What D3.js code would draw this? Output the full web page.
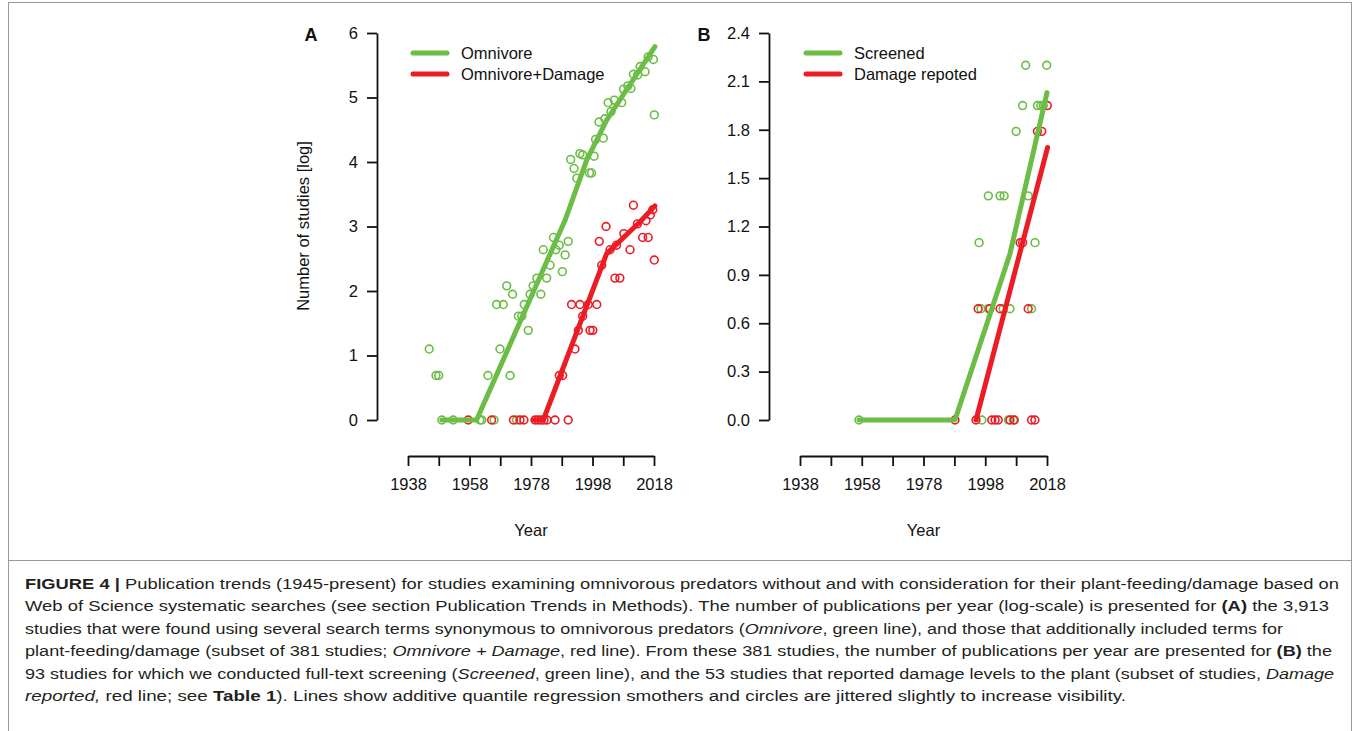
<!DOCTYPE html>
<html><head><meta charset="utf-8">
<script src="https://cdn.jsdelivr.net/npm/d3@7"></script>
<style>
body{margin:0;background:#fff;}
svg{display:block;font-family:"Liberation Sans",Arial,sans-serif;}
</style></head>
<body><svg id="c" width="1360" height="731"></svg>
<script>
// ---------- Data ----------
const xTickYears = [1938,1948,1958,1968,1978,1988,1998,2008,2018];
const xTickLabels = ["1938","","1958","","1978","","1998","","2018"];
const yTicksA = [0,1,2,3,4,5,6];
const yTicksB = [0,0.3,0.6,0.9,1.2,1.5,1.8,2.1,2.4];

// Panel A – Omnivore (green) points
const omnivoreYears = [1944.9,1947.1,1948.0,1949.0,1952.7,1961.4,1962.0,1966.0,1964.0,1971.2,1967.9,1977.1,1966.8,1969.0,1970.1,1972.0,1973.9,1975.0,1975.8,1977.7,1978.7,1979.9,1981.2,1983.1,1984.2,1982.0,1986.1,1987.2,1985.3,1990.1,1989.1,1988.2,1973.3,1992.9,1990.9,1992.0,1993.9,1994.8,1997.0,1997.7,1998.5,1999.0,2001.5,2000.1,2002.0,2003.1,2005.1,2007.5,2004.0,2008.1,2010.5,2009.5,2011.3,2012.7,2015.1,2013.5,2016.1,2017.8,2018.1];
const omnivoreValues = [1.10,0.69,0.69,0,0,0,0,0,0.69,0.69,1.10,1.39,1.79,1.79,2.08,1.95,1.61,1.61,1.79,1.95,2.08,2.20,1.95,2.20,2.40,2.64,2.64,2.71,2.83,2.77,2.56,2.30,0,3.75,4.04,3.90,4.13,4.11,3.83,3.83,4.09,4.35,4.37,4.62,4.67,4.92,4.96,4.92,4.78,5.13,5.14,5.18,5.36,5.35,5.40,5.48,5.63,5.59,4.73];

// Panel A – Omnivore+Damage (red) points
const damageAYears = [1957.6,1965.2,1972.3,1974.4,1975.7,1979.3,1980.3,1981.3,1982.2,1983.2,1985.8,1990.1,1987.2,1988.3,1992.3,1993.4,1994.8,1991.2,1993.9,1996.6,1999.4,1997.2,1998.1,2001.0,2000.2,2002.4,2003.7,2005.3,2006.9,2005.8,2008.2,2010.2,2014.3,2016.1,2018.1,2012.6,2015.4,2011.3,2016.8,2017.6];
const damageAValues = [0,0,0,0,0,0,0,0,0,0,0,0,0.69,0.69,1.10,1.39,1.61,1.79,1.79,1.79,1.79,1.39,1.39,2.40,2.77,3.00,2.64,2.20,2.20,2.71,2.89,2.64,2.83,2.83,2.48,3.04,3.09,3.33,3.18,3.26];

// Panel A – fitted lines
const omnivoreFitYears = [1949.0,1960.3,1989.1,1996.1,2002.6,2018.3];
const omnivoreFitValues = [0,0,3.10,4.03,4.65,5.79];
const damageAFitYears = [1978.8,1982.0,2002.6,2013.4,2018.3];
const damageAFitValues = [0,0,2.58,3.07,3.32];

// Panel B – Screened (green) points
const screenedYears = [1957.1,1996.9,2005.5,2007.1,1996.6,1999.0,2003.8,2006.0,2013.0,1996.0,2014.1,1999.0,2002.8,2004.1,2011.9,2008.0,2010.1,2014.9,2016.0,2016.8,2011.1,2017.9];
const screenedValues = [0,0,0,0,0.69,0.69,0.69,0.69,0.69,1.10,1.10,1.39,1.39,1.39,1.39,1.79,1.95,1.95,1.95,1.95,2.20,2.20];

// Panel B – Damage reported (red) points
const reportedYears = [1988.2,1995.0,2000.1,2001.2,2002.2,2006.0,2007.4,2013.0,2014.1,1995.7,1999.5,2002.8,2011.9,2009.3,2010.1,2014.9,2016.3,2018.1];
const reportedValues = [0,0,0,0,0,0,0,0,0,0.69,0.69,0.69,0.69,1.10,1.10,1.79,1.79,1.95];

// Panel B – fitted lines
const screenedFitYears = [1957.1,1988.2,2006.0,2018.0];
const screenedFitValues = [0,0,1.03,2.03];
const reportedFitYears = [1995.0,2018.2];
const reportedFitValues = [0,1.69];

const legendA = ["Omnivore","Omnivore+Damage"];
const legendB = ["Screened","Damage repoted"];

// ---------- Drawing ----------
const GREEN = "#6bbd45", RED = "#ec1c24";
const FS = 16.5;
const svg = d3.select("#c");

// frame
svg.append("rect").attr("x",8.5).attr("y",2.5).attr("width",1343).attr("height",740)
  .attr("fill","none").attr("stroke","#9a9a9a").attr("stroke-width",1);
svg.append("line").attr("x1",8.5).attr("x2",1351.5).attr("y1",560.5).attr("y2",560.5)
  .attr("stroke","#9a9a9a").attr("stroke-width",1);

function zip(a,b){return a.map((v,i)=>[v,b[i]]);}

function panel(cfg){
  const x = d3.scaleLinear().domain([1938,2018]).range(cfg.xr);
  const y = d3.scaleLinear().domain([0,cfg.ymax]).range([420,33]);
  const g = svg.append("g");

  const xa = g.append("g").attr("transform","translate(0,456)")
    .call(d3.axisBottom(x).tickValues(xTickYears).tickSize(10).tickSizeOuter(0).tickPadding(12)
      .tickFormat((d,i)=>xTickLabels[i]));
  const ya = g.append("g").attr("transform",`translate(${cfg.xr[0]-31},0)`)
    .call(d3.axisLeft(y).tickValues(cfg.yTicks).tickSize(10).tickSizeOuter(0).tickPadding(9)
      .tickFormat(cfg.fmt));
  [xa,ya].forEach(a=>{
    a.selectAll("path,line").attr("stroke","#111").attr("stroke-width",1.8);
    a.selectAll("text").attr("font-size",FS).attr("fill","#111")
      .attr("font-family","'Liberation Sans',Arial,sans-serif");
  });

  g.append("text").attr("x",(cfg.xr[0]+cfg.xr[1])/2).attr("y",536).attr("text-anchor","middle")
    .attr("font-size",FS).attr("fill","#111").text("Year");
  g.append("text").attr("x",cfg.letterX).attr("y",41).attr("text-anchor","middle")
    .attr("font-size",18).attr("font-weight","bold").attr("fill","#111").text(cfg.letter);

  const line = d3.line().x(d=>x(d[0])).y(d=>y(d[1]));
  cfg.series.forEach(s=>{
    g.append("g").selectAll("circle").data(zip(s.px,s.py)).join("circle")
      .attr("cx",d=>x(d[0])).attr("cy",d=>y(d[1])).attr("r",3.9)
      .attr("fill","none").attr("stroke",s.color).attr("stroke-width",1.6);
  });
  cfg.series.forEach(s=>{
    g.append("path").datum(zip(s.fx,s.fy)).attr("d",line).attr("fill","none")
      .attr("stroke",s.color).attr("stroke-width",5).attr("stroke-linecap","round")
      .attr("stroke-linejoin","round");
  });

  // legend
  cfg.legend.forEach((t,i)=>{
    const ly = 53 + i*21;
    g.append("line").attr("x1",cfg.legX).attr("x2",cfg.legX+34).attr("y1",ly).attr("y2",ly)
      .attr("stroke",cfg.series[i].color).attr("stroke-width",5).attr("stroke-linecap","round");
    g.append("text").attr("x",cfg.legX+48).attr("y",ly+6).attr("font-size",FS)
      .attr("fill","#111").text(t);
  });
}

panel({xr:[408,654], ymax:6, yTicks:yTicksA, fmt:d3.format("d"), letter:"A", letterX:311, legX:413,
  legend:legendA,
  series:[{color:GREEN,px:omnivoreYears,py:omnivoreValues,fx:omnivoreFitYears,fy:omnivoreFitValues},
          {color:RED,px:damageAYears,py:damageAValues,fx:damageAFitYears,fy:damageAFitValues}]});
panel({xr:[800,1047], ymax:2.4, yTicks:yTicksB, fmt:d3.format(".1f"), letter:"B", letterX:704, legX:806,
  legend:legendB,
  series:[{color:GREEN,px:screenedYears,py:screenedValues,fx:screenedFitYears,fy:screenedFitValues},
          {color:RED,px:reportedYears,py:reportedValues,fx:reportedFitYears,fy:reportedFitValues}]});

// y axis title (panel A)
svg.append("text").attr("transform","translate(309,226) rotate(-90)").attr("text-anchor","middle")
  .attr("font-size",FS).attr("fill","#111").text("Number of studies [log]");

// ---------- Caption ----------
const captionLines = [
  [["b","FIGURE 4 |"],["n"," Publication trends (1945-present) for studies examining omnivorous predators without and with consideration for their plant-feeding/damage based on"]],
  [["n","Web of Science systematic searches (see section Publication Trends in Methods). The number of publications per year (log-scale) is presented for "],["b","(A)"],["n"," the 3,913"]],
  [["n","studies that were found using several search terms synonymous to omnivorous predators ("],["i","Omnivore"],["n",", green line), and those that additionally included terms for"]],
  [["n","plant-feeding/damage (subset of 381 studies; "],["i","Omnivore + Damage"],["n",", red line). From these 381 studies, the number of publications per year are presented for "],["b","(B)"],["n"," the"]],
  [["n","93 studies for which we conducted full-text screening ("],["i","Screened"],["n",", green line), and the 53 studies that reported damage levels to the plant (subset of studies, "],["i","Damage"]],
  [["i","reported,"],["n"," red line; see "],["b","Table 1"],["n","). Lines show additive quantile regression smothers and circles are jittered slightly to increase visibility."]]
];
const captionEnds = [1339,1329,1283,1332,1334,1126];
captionLines.forEach((parts,i)=>{
  const t = svg.append("text").attr("x",25).attr("y",589+i*22.4).attr("font-size",15.5)
    .attr("fill","#231f20").attr("textLength",captionEnds[i]-25).attr("lengthAdjust","spacingAndGlyphs");
  parts.forEach(p=>{
    const s = t.append("tspan").text(p[1]);
    if(p[0]==="b") s.attr("font-weight","bold");
    if(p[0]==="i") s.attr("font-style","italic");
  });
});
</script></body></html>
